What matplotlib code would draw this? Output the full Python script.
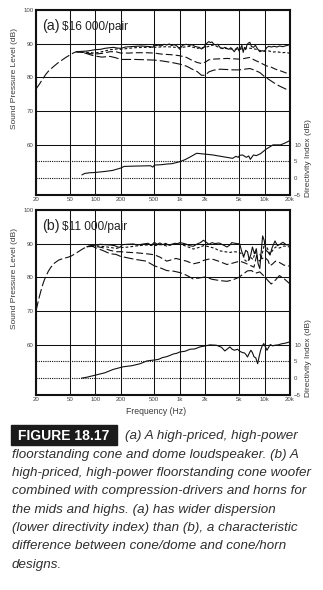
import matplotlib
matplotlib.use("Agg")
import matplotlib.pyplot as plt
from matplotlib.patches import Rectangle
from matplotlib.ticker import NullLocator
from matplotlib.transforms import blended_transform_factory

plt.rcParams['font.family'] = ['Liberation Sans', 'DejaVu Sans']
plt.rcParams['lines.scale_dashes'] = False

# ---------------------------------------------------------------- axes / ticks
FREQ_TICKS = [20, 50, 100, 200, 500, 1000, 2000, 5000, 10000, 20000]
FREQ_LABELS = ['20', '50', '100', '200', '500', '1k', '2k', '5k', '10k', '20k']
SPL_TICKS = [60, 70, 80, 90, 100]
DI_TICKS = [-5, 0, 5, 10]
DI_DOTTED = [0, 5]

# ---------------------------------------------------------------- panel (a)
A_TITLE_TAG = '(a)'
A_TITLE_PRICE = '\\$16 000/pair'

A_F_ON = [60, 70, 80, 90, 100, 115, 130, 150, 165, 180,
          200, 230, 260, 300, 350, 400, 450, 480, 500, 520,
          560, 600, 650, 700, 750, 800, 850, 900, 950, 1000,
          1050, 1100, 1200, 1300, 1400, 1500, 1600, 1700, 1800, 1900,
          2000, 2100, 2200, 2300, 2400, 2500, 2650, 2800, 3000, 3200,
          3400, 3600, 3800, 4000, 4200, 4400, 4600, 4800, 5000, 5200,
          5400, 5600, 5800, 6000, 6200, 6400, 6700, 7000, 7400, 7800,
          8300, 8800, 9400, 10000, 10600, 11200, 12000, 13000, 14000, 15000,
          16500, 18000, 20000]
A_ON = [87.6, 87.7, 87.8, 88.0, 88.2, 88.3, 88.6, 88.8, 88.9, 88.7,
        88.6, 89.0, 89.1, 89.2, 89.3, 89.2, 89.1, 88.9, 89.8, 89.4,
        89.6, 89.3, 89.8, 89.6, 89.9, 89.4, 89.7, 89.5, 89.0, 88.3,
        89.2, 89.6, 89.8, 89.5, 89.7, 89.2, 89.0, 88.9, 88.4, 88.8,
        89.6, 90.2, 90.6, 90.3, 90.5, 89.9, 89.6, 89.8, 88.8, 88.5,
        88.9, 88.6, 88.3, 88.8, 88.2, 87.6, 88.4, 88.9, 87.8, 88.6,
        89.5, 87.4, 88.9, 88.2, 89.6, 90.1, 90.4, 89.2, 88.9, 89.5,
        88.4, 87.6, 87.9, 87.7, 88.8, 89.2, 89.0, 89.2, 89.0, 89.3,
        89.1, 89.4, 89.7]

A_F_30 = [60, 80, 100, 120, 150, 180, 200, 250, 300, 400,
          500, 700, 1000, 1300, 1600, 2000, 2500, 3000, 4000, 5000,
          6000, 7000, 8000, 9000, 10000, 11000, 12500, 14000, 16000, 18000,
          20000]
A_30 = [87.6, 87.4, 87.2, 87.6, 88.2, 88.4, 88.3, 88.6, 88.8, 88.9,
        88.9, 89.1, 88.8, 89.2, 88.6, 88.9, 89.6, 88.7, 88.4, 88.3,
        88.7, 88.6, 88.3, 87.9, 87.8, 87.9, 87.5, 87.6, 87.3, 87.4,
        87.1]

A_F_45 = [60, 70, 80, 90, 100, 120, 150, 175, 200, 250,
          300, 400, 500, 600, 800, 1000, 1200, 1400, 1600, 1800,
          2000, 2200, 2500, 3000, 3600, 4200, 5000, 5800, 6700, 7500,
          8800, 10500, 12000, 13500, 15500, 17500, 20000]
A_45 = [87.6, 87.4, 87.2, 87.0, 86.9, 87.1, 87.6, 87.6, 87.2, 87.2,
        87.3, 87.3, 87.2, 86.9, 86.7, 86.4, 85.9, 85.0, 84.4, 84.1,
        84.5, 85.2, 85.4, 85.5, 85.6, 85.5, 85.4, 85.6, 85.9, 85.2,
        84.4, 83.4, 83.0, 82.4, 81.9, 81.4, 80.8]

A_F_60 = [20, 22, 24, 26, 28, 30, 33, 36, 40, 45,
          50, 55, 60, 70, 80, 90, 100, 120, 150, 175,
          200, 250, 300, 400, 500, 600, 800, 1000, 1200, 1400,
          1600, 1800, 2000, 2200, 2500, 3000, 3600, 4200, 5000, 5800,
          6700, 7500, 8800, 10000, 11500, 13000, 15000, 17500, 20000]
A_60 = [76.5, 78.0, 79.5, 80.8, 81.8, 82.5, 83.4, 84.2, 85.0, 85.9,
        86.6, 87.2, 87.6, 87.5, 87.0, 86.6, 86.3, 86.0, 86.2, 85.8,
        85.3, 85.3, 85.3, 85.2, 85.1, 84.9, 84.4, 83.9, 83.3, 82.4,
        81.7, 80.6, 80.6, 81.6, 82.1, 82.4, 82.3, 82.2, 82.2, 82.4,
        82.6, 82.2, 81.4, 80.2, 79.2, 78.3, 77.4, 76.6, 75.9]

A_F_DI = [70, 75, 85, 100, 130, 160, 200, 220, 300, 450,
          480, 500, 600, 700, 800, 900, 1000, 1150, 1300, 1580,
          1900, 2460, 3200, 4200, 4600, 4900, 5100, 5500, 6100, 6500,
          6800, 7400, 8000, 9000, 10400, 12600, 15400, 17300, 20000]
A_DI = [1.0, 1.4, 1.6, 1.7, 2.0, 2.3, 3.0, 3.5, 3.6, 3.7,
        3.3, 3.9, 4.0, 4.2, 4.3, 4.6, 4.9, 5.5, 6.2, 7.4,
        7.2, 6.9, 6.4, 5.9, 6.5, 6.2, 6.8, 6.9, 6.2, 6.6,
        5.6, 6.9, 6.7, 7.3, 8.6, 9.9, 9.9, 10.4, 11.2]

# ---------------------------------------------------------------- panel (b)
B_TITLE_TAG = '(b)'
B_TITLE_PRICE = '\\$11 000/pair'

B_F_ON = [80, 90, 100, 115, 130, 150, 170, 185, 195, 210,
          240, 280, 320, 370, 420, 460, 500, 540, 580, 630,
          680, 730, 800, 870, 940, 1000, 1100, 1200, 1300, 1440,
          1600, 1750, 1900, 2050, 2200, 2400, 2600, 2900, 3200, 3600,
          3900, 4100, 4500, 5100, 5400, 5700, 6000, 6300, 6600, 6900,
          7200, 7600, 8000, 8400, 8800, 9100, 9500, 9900, 10400, 11000,
          11600, 12300, 13300, 14200, 15200, 16500, 18000, 20000]
B_ON = [89.1, 89.4, 89.6, 89.8, 89.7, 89.6, 89.4, 89.0, 88.9, 89.7,
        89.8, 89.9, 89.6, 89.9, 90.1, 89.5, 90.4, 89.8, 90.2, 89.7,
        90.1, 89.6, 89.8, 90.1, 90.0, 90.3, 90.1, 89.8, 89.4, 89.2,
        89.9, 90.3, 91.0, 90.4, 89.8, 90.3, 90.0, 90.2, 89.7, 89.0,
        89.6, 90.3, 90.1, 89.9, 87.5, 86.2, 88.0, 87.6, 85.2, 86.8,
        89.0, 87.0, 88.5, 84.0, 82.6, 87.0, 92.3, 91.0, 88.0, 87.5,
        86.6, 88.8, 90.8, 89.4, 89.8, 90.4, 89.7, 89.5]

B_F_30 = [80, 100, 130, 176, 200, 250, 300, 400, 500, 600,
          700, 850, 1000, 1200, 1440, 1700, 1900, 2200, 2600, 2900,
          3400, 3900, 4500, 5100, 5500, 5900, 6300, 6800, 7300, 7800,
          8300, 8800, 9300, 10000, 10800, 11600, 12500, 13500, 15000, 17000,
          20000]
B_30 = [89.1, 89.4, 89.1, 88.6, 88.8, 89.0, 89.3, 89.6, 89.4, 89.7,
        89.3, 89.8, 89.9, 89.2, 88.4, 88.9, 89.4, 89.1, 88.6, 87.9,
        87.6, 87.4, 87.6, 87.3, 86.8, 85.0, 84.6, 86.0, 85.3, 87.5,
        85.5, 84.8, 86.5, 90.0, 88.6, 86.9, 88.0, 89.0, 88.7, 89.3,
        89.0]

B_F_45 = [80, 100, 122, 150, 176, 200, 250, 300, 400, 500,
          580, 700, 800, 900, 1000, 1200, 1440, 1700, 1900, 2200,
          2500, 3000, 3600, 4200, 5100, 5800, 6700, 7500, 8100, 8800,
          9300, 10000, 11000, 11600, 12500, 13500, 15000, 17000, 20000]
B_45 = [89.1, 89.2, 88.8, 88.0, 87.6, 87.6, 87.4, 87.3, 87.0, 86.7,
        86.0, 84.8, 85.2, 85.6, 85.3, 84.8, 84.0, 84.4, 85.0, 85.4,
        85.3, 84.6, 83.8, 84.2, 84.8, 84.3, 83.6, 83.0, 86.6, 87.0,
        85.5, 86.0, 85.0, 83.4, 84.0, 84.8, 84.4, 83.6, 83.3]

B_F_60 = [20, 21, 22, 23, 24, 25, 26.5, 28, 30, 33,
          37, 42, 47, 52, 58, 65, 72, 80, 90, 100,
          122, 150, 176, 200, 250, 300, 400, 500, 600, 700,
          850, 1000, 1200, 1440, 1700, 2000, 2400, 3000, 3600, 4200,
          5000, 5600, 6300, 7000, 7800, 8800, 10000, 11000, 12000, 13500,
          15000, 17000, 20000]
B_60 = [70.0, 72.3, 74.4, 76.2, 77.8, 79.1, 80.6, 81.8, 83.0, 84.2,
        85.1, 85.6, 85.9, 86.3, 87.0, 87.8, 88.5, 89.1, 89.4, 88.8,
        88.0, 87.0, 86.8, 86.2, 85.7, 85.3, 84.8, 83.4, 82.7, 82.0,
        81.8, 81.4, 80.6, 79.5, 79.8, 80.1, 79.4, 79.0, 78.8, 79.2,
        80.0, 81.0, 81.9, 82.0, 81.2, 81.6, 80.2, 79.0, 78.0, 79.2,
        80.5, 79.6, 78.0]

B_F_DI = [69, 80, 104, 130, 163, 215, 270, 340, 405, 460,
          500, 560, 620, 700, 770, 840, 920, 1000, 1150, 1320,
          1500, 1730, 2000, 2270, 2700, 3100, 3400, 3650, 3900, 4150,
          4400, 4800, 5100, 5500, 5800, 6050, 6300, 6600, 6900, 7200,
          7500, 7900, 8300, 8650, 9000, 9400, 9800, 10200, 10700, 11200,
          11700, 12500, 13300, 14500, 15800, 17500, 20000]
B_DI = [0.0, 0.3, 1.0, 1.6, 2.6, 3.4, 3.7, 4.3, 5.1, 5.3,
        5.4, 5.6, 6.1, 6.4, 6.8, 7.2, 7.4, 7.8, 8.0, 8.6,
        8.7, 9.3, 9.6, 9.9, 9.8, 9.2, 8.1, 8.7, 9.3, 8.6,
        8.3, 8.6, 8.0, 7.6, 7.5, 7.0, 6.3, 7.4, 8.3, 7.6,
        6.4, 6.0, 4.3, 6.5, 8.3, 9.6, 10.3, 9.4, 8.3, 9.2,
        10.0, 9.6, 9.8, 9.9, 10.2, 10.4, 10.8]

CAPTION_TAG = 'FIGURE 18.17'
CAPTION_LINES = [
    '(a) A high-priced, high-power',
    'floorstanding cone and dome loudspeaker. (b) A',
    'high-priced, high-power floorstanding cone woofer',
    'combined with compression-drivers and horns for',
    'the mids and highs. (a) has wider dispersion',
    '(lower directivity index) than (b), a characteristic',
    'difference between cone/dome and cone/horn',
    'designs.',
]

# ---------------------------------------------------------------- styling
W, H = 323, 590
INK = '#111111'
TXT = '#3a3a3a'
NARROW = ['Liberation Sans Narrow', 'Liberation Sans', 'DejaVu Sans']

STYLE_ON = dict(color=INK, lw=0.8, ls='-')
STYLE_30 = dict(color=INK, lw=0.8, dashes=(2.0, 1.5))
STYLE_45 = dict(color=INK, lw=0.8, dashes=(5.0, 2.2))
STYLE_60 = dict(color=INK, lw=0.8, dashes=(7.0, 2.2))

fig = plt.figure(figsize=(W / 100, H / 100), dpi=100)


def panel(top_px, tag, price, curves, di_f, di_v):
    ax = fig.add_axes([36 / W, 1 - (top_px + 185) / H, 254 / W, 185 / H])
    ax.set_xscale('log')
    ax.set_xlim(20, 20000)
    ax.set_ylim(45, 100)
    ax.set_xticks(FREQ_TICKS)
    ax.set_xticklabels(FREQ_LABELS)
    ax.xaxis.set_minor_locator(NullLocator())
    ax.set_yticks(SPL_TICKS)
    ax.tick_params(length=0, labelsize=4.4, labelcolor='#444444', pad=2.0)
    ax.tick_params(axis='x', pad=1.6)
    for lab in ax.get_xticklabels() + ax.get_yticklabels():
        lab.set_family(NARROW)
    ax.grid(True, color=INK, lw=0.75, zorder=1)
    for s in ax.spines.values():
        s.set_linewidth(1.5)
        s.set_color(INK)
        s.set_zorder(5)

    for (f, v, st) in curves:
        ax.plot(f, v, zorder=3, **st)

    tw = ax.twinx()
    tw.set_ylim(-5, 50)
    tw.set_yticks(DI_TICKS)
    tw.tick_params(length=0, labelsize=4.4, labelcolor='#444444', pad=3.0)
    for lab in tw.get_yticklabels():
        lab.set_family(NARROW)
    for s in tw.spines.values():
        s.set_visible(False)
    for d in DI_DOTTED:
        tw.axhline(d, color=INK, lw=0.8, ls=(0, (0.8, 0.8)), zorder=2)
    tw.plot(di_f, di_v, zorder=3, **STYLE_ON)

    ax.text(0.026, 1 - (20.0 / 185), tag, transform=ax.transAxes,
            fontsize=10.3, color='#222222', ha='left', va='baseline')
    ax.text(0.104, 1 - (20.0 / 185), price, transform=ax.transAxes,
            fontsize=8.6, color='#222222', ha='left', va='baseline')

    bt = blended_transform_factory(ax.transAxes, ax.transData)
    ax.text(-0.083, 79.5, 'Sound Pressure Level (dB)', transform=bt,
            rotation=90, ha='center', va='center', fontsize=6.0, color=TXT)
    ax.text(1.071, 56.0, 'Directivity Index (dB)', transform=bt,
            rotation=90, ha='center', va='center', fontsize=6.0, color=TXT,
            clip_on=False)
    return ax


panel(10, A_TITLE_TAG, A_TITLE_PRICE,
      [(A_F_60, A_60, STYLE_60), (A_F_45, A_45, STYLE_45),
       (A_F_30, A_30, STYLE_30), (A_F_ON, A_ON, STYLE_ON)],
      A_F_DI, A_DI)
panel(210, B_TITLE_TAG, B_TITLE_PRICE,
      [(B_F_60, B_60, STYLE_60), (B_F_45, B_45, STYLE_45),
       (B_F_30, B_30, STYLE_30), (B_F_ON, B_ON, STYLE_ON)],
      B_F_DI, B_DI)

fig.text(156 / W, 1 - 411 / H, 'Frequency (Hz)', ha='center', va='center',
         fontsize=6.2, color=TXT)

# caption
fig.patches.append(Rectangle((11 / W, 1 - 445 / H), 106 / W, 20 / H,
                             transform=fig.transFigure, color='#1b1b1b',
                             zorder=0))
fig.text(18 / W, 1 - 440 / H, CAPTION_TAG, ha='left', va='baseline',
         fontsize=10, fontweight='bold', color='white')
for i, line in enumerate(CAPTION_LINES):
    x0 = 125 if i == 0 else 12
    fig.text(x0 / W, 1 - (439.3 + 18.35 * i) / H, line, ha='left',
             va='baseline', fontsize=9.6, fontstyle='italic', color='#2e2e2e')

fig.savefig('out.png', dpi=100)
